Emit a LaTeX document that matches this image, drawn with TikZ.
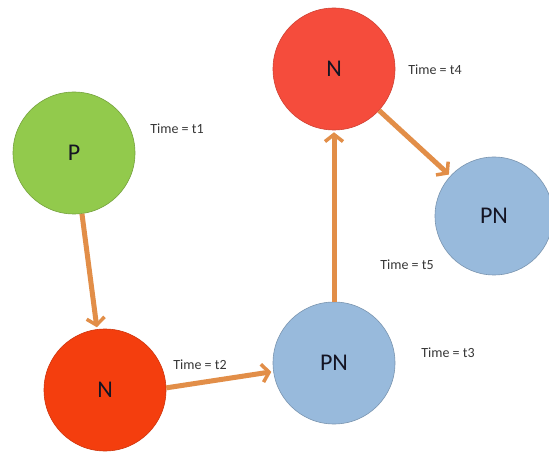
\documentclass[tikz,border=0pt]{standalone}
\usepackage{fontspec}
\setmainfont{Carlito}
\usetikzlibrary{arrows.meta}
\definecolor{cgreen}{RGB}{146,202,76}
\definecolor{credA}{RGB}{244,62,14}
\definecolor{credB}{RGB}{245,76,60}
\definecolor{cblue}{RGB}{152,186,220}
\definecolor{carrow}{RGB}{226,142,72}
\definecolor{ctext}{RGB}{20,20,35}
\definecolor{clabel}{RGB}{55,55,55}
\tikzset{
  state/.style={circle,minimum size=122pt,inner sep=0pt,line width=0.6pt,
    font=\fontsize{24}{24}\selectfont,text=ctext},
  greenstate/.style={state,fill=cgreen,draw=cgreen!80!black},
  redA/.style={state,fill=credA,draw=credA!85!black},
  redB/.style={state,fill=credB,draw=credB!85!black},
  bluestate/.style={state,fill=cblue,draw=cblue!80!black},
  timelabel/.style={font=\fontsize{14}{14}\selectfont,text=clabel},
  link/.style={draw=carrow,line width=5pt,shorten >=2pt,
    -{Straight Barb[length=7pt,width=18pt,line width=3.5pt]}}
}
\begin{document}
\begin{tikzpicture}[x=1pt,y=1pt]
\useasboundingbox[fill=white] (0,0) rectangle (549,453);
\node[greenstate] (P) at (74,300) {P};
\node[redA] (Nb) at (105,63) {N};
\node[bluestate] (PNb) at (334,90) {PN};
\node[redB] (Nt) at (334,384) {N};
\node[bluestate,minimum size=118pt] (PNr) at (494,237) {PN};
\node[timelabel] (t1) at (177,324) {Time = t1};
\node[timelabel] (t2) at (200,88) {Time = t2};
\node[timelabel] (t3) at (448,100) {Time = t3};
\node[timelabel] (t4) at (435,383) {Time = t4};
\node[timelabel] (t5) at (407,188) {Time = t5};
\draw[link] (P) -- (Nb);
\draw[link] (Nb.2) -- (PNb.188);
\draw[link] (PNb.north) -- (Nt.south);
\draw[link] (Nt) -- (PNr);
\end{tikzpicture}
\end{document}
